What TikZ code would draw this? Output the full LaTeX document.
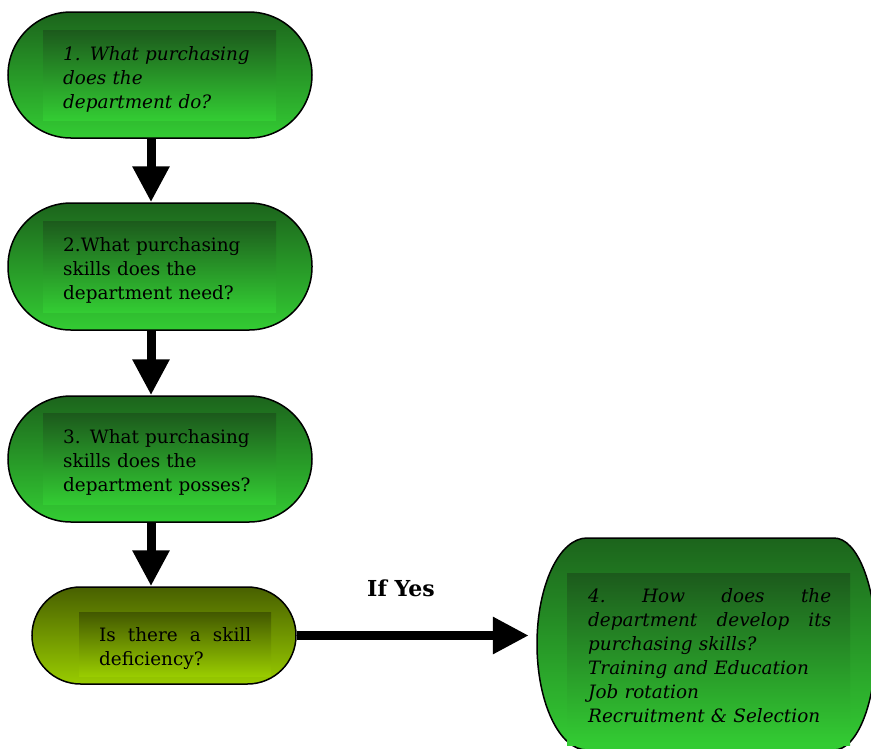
\documentclass[tikz,border=0pt]{standalone}
\usepackage{fontspec}
\setmainfont{DejaVu Serif}
\usetikzlibrary{arrows.meta}
\definecolor{gtop}{RGB}{28,100,28}
\definecolor{gbot}{RGB}{51,204,51}
\definecolor{itop}{RGB}{28,90,28}
\definecolor{otop}{RGB}{72,96,0}
\definecolor{obot}{RGB}{153,204,0}
\definecolor{iotop}{RGB}{66,88,0}
\tikzset{
  term/.style={rectangle, draw=black, line width=1.5pt, inner sep=0pt},
  innerbox/.style={rectangle, draw=none, inner sep=0pt},
  txt/.style={anchor=base west, inner sep=0pt, align=left, font=\fontsize{18.4}{24}\selectfont},
  arr/.style={line width=9pt, -{Triangle[width=35pt,length=36pt]}},
}
\begin{document}
\begin{tikzpicture}[x=1pt,y=1pt]
\useasboundingbox (0,0) rectangle (871,-748);
\begin{scope}
\clip (0,0) rectangle (871,-748);
% box 1
\node[term, rounded corners=63pt, minimum width=304pt, minimum height=126pt, top color=gtop, bottom color=gbot] (b1) at (160,-75) {};
\node[innerbox, minimum width=233pt, minimum height=90pt, top color=itop, bottom color=gbot] (i1) at (159.5,-75) {};
\node[txt, text width=210pt] (t1) at (63,-60) {\itshape 1. What purchasing\\does the\\department do?};
% box 2
\node[term, rounded corners=63pt, minimum width=304pt, minimum height=127pt, top color=gtop, bottom color=gbot] (b2) at (160,-266.5) {};
\node[innerbox, minimum width=233pt, minimum height=91pt, top color=itop, bottom color=gbot] (i2) at (159.5,-266.5) {};
\node[txt, text width=210pt] (t2) at (63,-251) {2.What purchasing\\skills does the\\department need?};
% box 3
\node[term, rounded corners=63pt, minimum width=304pt, minimum height=126pt, top color=gtop, bottom color=gbot] (b3) at (160,-459) {};
\node[innerbox, minimum width=233pt, minimum height=91pt, top color=itop, bottom color=gbot] (i3) at (159.5,-459) {};
\node[txt, text width=210pt] (t3) at (63,-443) {3. What purchasing\\skills does the\\department posses?};
% box 4 (decision)
\node[term, rounded corners=48.5pt, minimum width=264pt, minimum height=97pt, top color=otop, bottom color=obot] (b4) at (164,-635.5) {};
\node[innerbox, minimum width=192pt, minimum height=64pt, top color=iotop, bottom color=obot] (i4) at (175,-644) {};
\node[txt, text width=160pt] (t4) at (99,-641) {\makebox[152pt][s]{Is\hfill there\hfill a\hfill skill}\\deficiency?};
% box 5
\node[rectangle, draw=none, inner sep=0pt, minimum width=339pt, minimum height=212pt] (b5) at (706.5,-644) {};
\path[draw=black, line width=1.5pt, top color=gtop, bottom color=gbot]
  (587,-538) -- (834,-538) arc[start angle=90, end angle=-90, x radius=42, y radius=106]
  -- (587,-750) arc[start angle=270, end angle=90, x radius=50, y radius=106] -- cycle;
\node[innerbox, minimum width=283pt, minimum height=172pt, top color=itop, bottom color=gbot] (i5) at (708.5,-659) {};
\node[txt, text width=250pt] (t5) at (588,-602) {\itshape\makebox[243pt][s]{4.\hfill How\hfill does\hfill the}\\\makebox[243pt][s]{department\hfill develop\hfill its}\\purchasing skills?\\Training and Education\\Job rotation\\Recruitment \& Selection};
% label
\node[font=\fontsize{22}{26}\selectfont\bfseries, inner sep=0pt] (lbl) at (401,-588) {If Yes};
% connectors
\draw[arr] ([xshift=-9pt]b1.south) -- ([xshift=-9pt]b2.north);
\draw[arr] ([xshift=-9pt]b2.south) -- ([xshift=-9pt]b3.north);
\draw[arr] ([xshift=-9pt]b3.south) -- ([xshift=-9pt]b3.south |- b4.north);
\draw[arr, shorten >=8pt] (b4.east) -- (b4.east -| b5.west);
\end{scope}
\end{tikzpicture}
\end{document}
